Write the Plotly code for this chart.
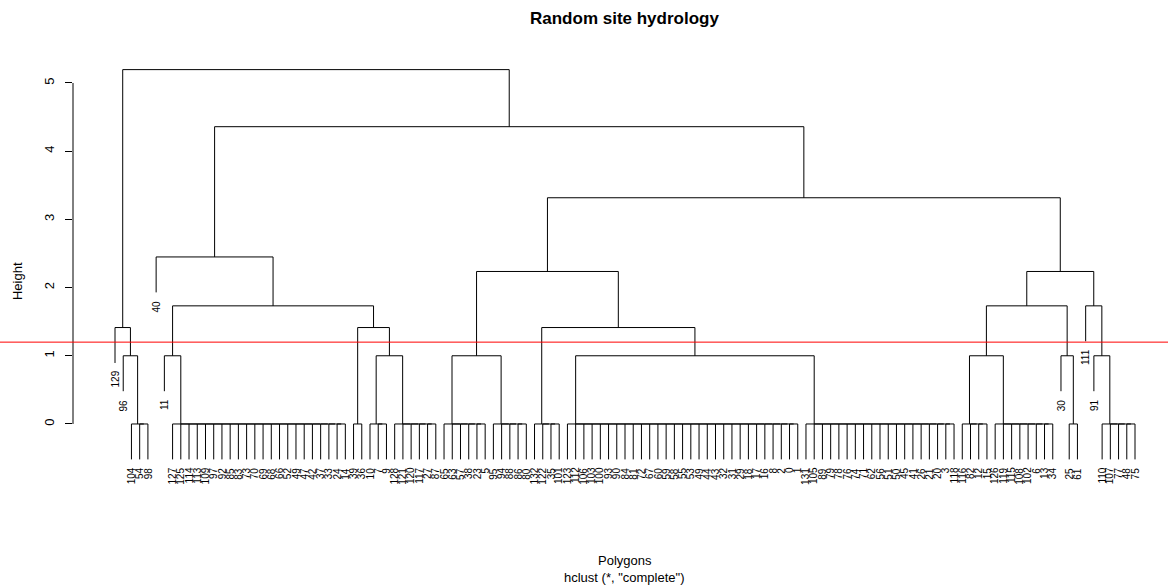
import plotly.graph_objects as go

# ---------------- data ----------------
# leaf labels of the clusters that merge at height 0 (display order)
grp_A = ["104", "54", "98"]
grp_B = ["127", "125", "114", "113", "109", "97", "92", "85", "83", "73", "70",
         "69", "68", "66", "52", "49", "47", "42", "37", "33", "24", "14"]
grp_C = ["39", "36"]
grp_D = ["10", "7", "9"]
grp_E = ["128", "121", "120", "117", "27", "87"]
grp_F = ["65", "63", "57", "38", "23", "5"]
grp_G = ["95", "94", "88", "86", "80"]
grp_H = ["132", "122", "35", "101"]
grp_I = ["123", "112", "106", "103", "100", "93", "90", "84", "81", "72", "67",
         "60", "59", "58", "55", "53", "49", "44", "43", "32", "31", "29", "18",
         "17", "16", "8", "2", "0", "1"]
grp_J = ["131", "105", "89", "79", "78", "76", "74", "71", "62", "56", "51",
         "50", "45", "41", "26", "21", "20", "3", "118"]
grp_K = ["116", "82", "12", "15"]
grp_L = ["126", "119", "115", "108", "102", "6", "13", "34"]
grp_M = ["25", "61"]
grp_N = ["110", "107", "77", "48", "75"]

groups = {"A": grp_A, "B": grp_B, "C": grp_C, "D": grp_D, "E": grp_E,
          "F": grp_F, "G": grp_G, "H": grp_H, "I": grp_I, "J": grp_J,
          "K": grp_K, "L": grp_L, "M": grp_M, "N": grp_N}

# merges above height 0: (name, left, right, height)
merge_names = ["T1b", "T1", "T6", "T8", "T7", "T5", "T3", "T11", "T13", "T12",
               "T9", "T16", "T17", "T14", "T18", "T15", "T10", "T4", "T2", "root"]
merge_left = ["96", "129", "11", "D", "C", "T6", "40", "F", "I", "H",
              "T11", "K", "30", "T16", "91", "111", "T14", "T9", "T3", "T1"]
merge_right = ["A", "T1b", "B", "E", "T8", "T7", "T5", "G", "J", "T13",
               "T12", "L", "M", "T17", "N", "T18", "T15", "T10", "T4", "T2"]
merge_height = [1.000, 1.414, 1.000, 1.000, 1.414, 1.732, 2.449, 1.000, 1.000, 1.414,
                2.236, 1.000, 1.000, 1.732, 1.000, 1.732, 2.236, 3.317, 4.359, 5.196]

cut_height = 1.2
title_text = "Random site hydrology"
# ---------------------------------------

merge_map = {n: (l, r, h) for n, l, r, h in zip(merge_names, merge_left, merge_right, merge_height)}


def build(name):
    if name in merge_map:
        l, r, h = merge_map[name]
        return (build(l), build(r), h)
    if name in groups:
        labs = groups[name]
        node = labs[-1]
        for lab in reversed(labs[:-1]):
            node = (lab, node, 0.0)
        return node
    return name


tree = build("root")
hang = 0.1 * max(merge_height)

seg_x, seg_y = [], []
leaves = []
counter = [0]


def place(node):
    if isinstance(node, str):
        counter[0] += 1
        return counter[0], None, node
    left, right, h = node
    out = []
    for child in (left, right):
        cx, ch, lab = place(child)
        if ch is None:
            bottom = h - hang
            leaves.append((lab, cx, bottom))
        else:
            bottom = ch
        seg_x.extend([cx, cx, None])
        seg_y.extend([h, bottom, None])
        out.append(cx)
    seg_x.extend([out[0], out[1], None])
    seg_y.extend([h, h, None])
    return (out[0] + out[1]) / 2, h, None


place(tree)
n_leaves = counter[0]

FONT = "Liberation Sans, Arial, Helvetica, sans-serif"

fig = go.Figure()
fig.add_trace(go.Scatter(x=seg_x, y=seg_y, mode="lines",
                         line=dict(color="black", width=1), hoverinfo="skip",
                         showlegend=False))

annotations = []
for lab, x, yb in leaves:
    annotations.append(dict(x=x, y=yb, xref="x", yref="y", text=lab,
                            textangle=-90, showarrow=False, xanchor="center",
                            yanchor="top", yshift=-6,
                            font=dict(family=FONT, size=10, color="black")))

annotations += [
    dict(x=0.5037, y=1.1024, xref="paper", yref="paper", text="<b>" + title_text + "</b>",
         showarrow=False, xanchor="center", yanchor="middle",
         font=dict(family=FONT, size=17, color="black")),
    dict(x=-0.0511, y=(470 - 281) / 410, xref="paper", yref="paper", text="Height",
         textangle=-90, showarrow=False, xanchor="center", yanchor="middle",
         font=dict(family=FONT, size=13, color="black")),
    dict(x=0.5037, y=(470 - 560) / 410, xref="paper", yref="paper", text="Polygons",
         showarrow=False, xanchor="center", yanchor="middle",
         font=dict(family=FONT, size=13, color="black")),
    dict(x=0.5037, y=(470 - 577) / 410, xref="paper", yref="paper",
         text='hclust (*, "complete")',
         showarrow=False, xanchor="center", yanchor="middle",
         font=dict(family=FONT, size=13, color="black")),
]

shapes = [
    dict(type="line", xref="paper", yref="y", x0=0, x1=0, y0=0, y1=5,
         line=dict(color="black", width=1)),
    dict(type="line", xref="paper", yref="y", x0=-73 / 1095, x1=1, y0=cut_height, y1=cut_height,
         line=dict(color="red", width=1)),
]

fig.update_layout(
    width=1168, height=587,
    margin=dict(l=73, r=0, t=60, b=117),
    plot_bgcolor="white", paper_bgcolor="white",
    showlegend=False,
    annotations=annotations, shapes=shapes,
    xaxis=dict(range=[-4.106, 129.01], visible=False, showgrid=False, zeroline=False),
    yaxis=dict(range=[-0.675, 5.337], showgrid=False, zeroline=False, showline=False,
               automargin=False,
               tickmode="array", tickvals=[0, 1, 2, 3, 4, 5], ticks="outside",
               ticklen=7, tickcolor="black", tickwidth=1, tickangle=-90,
               ticklabelstandoff=6,
               tickfont=dict(family=FONT, size=13, color="black")),
)

fig.write_html("out.html", config={"displayModeBar": False},
               post_script="document.body.style.margin='0';document.body.style.overflow='hidden';")
